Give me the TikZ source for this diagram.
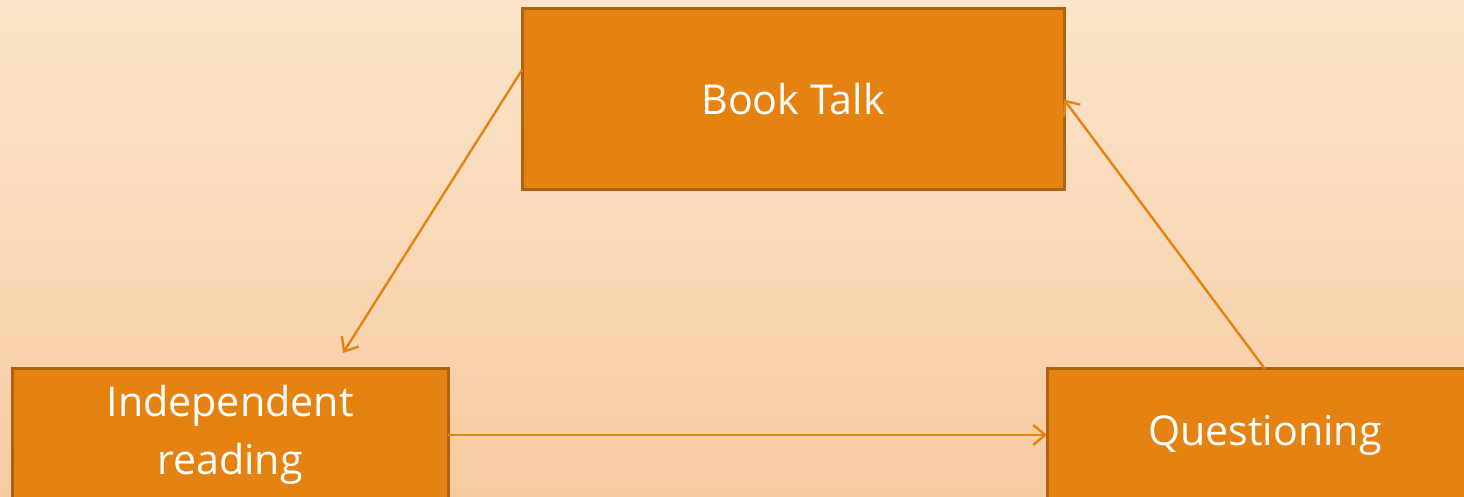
\documentclass[tikz,border=0pt]{standalone}
\usepackage{fontspec}
\setmainfont{Open Sans}
\usetikzlibrary{arrows.meta,calc}
\definecolor{bgtop}{HTML}{FBE5CC}
\definecolor{bgbot}{HTML}{F6CBA0}
\definecolor{boxfill}{HTML}{E48312}
\definecolor{boxline}{HTML}{B0620E}
\definecolor{arrowcol}{HTML}{E48312}
\begin{document}
\begin{tikzpicture}[x=0.5pt,y=-0.5pt,
  stepbox/.style={rectangle, draw=boxline, line width=1.5pt, fill=boxfill,
    text=white, font=\fontsize{20.6}{29}\selectfont, align=center,
    inner sep=0pt, outer sep=0pt},
  link/.style={draw=arrowcol, line width=1.2pt,
    -{Straight Barb[length=6pt,width=10pt,line width=1.2pt]}}]
\useasboundingbox (0,0) rectangle (1464,497);
\shade[top color=bgtop, bottom color=bgbot] (0,0) rectangle (1464,497);
\node[stepbox, minimum width=271pt, minimum height=90.5pt] (bt) at (793,99.5) {Book Talk};
\node[stepbox, minimum width=218pt, minimum height=66pt] (ir) at (230,435) {Independent\\reading};
\node[stepbox, minimum width=218pt, minimum height=66pt] (q) at (1265,435) {Questioning};
\draw[link] ([yshift=14.75pt]bt.west) -- ([xshift=56.5pt,yshift=8pt]ir.north);
\draw[link] (ir.east) -- (q.west);
\draw[link] (q.north) -- (bt.east);
\end{tikzpicture}
\end{document}
